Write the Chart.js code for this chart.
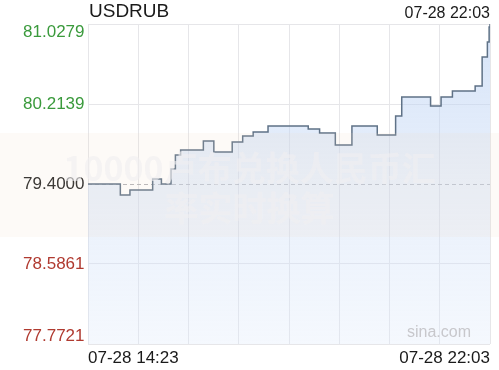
<!DOCTYPE html>
<html>
<head>
<meta charset="utf-8">
<title>USDRUB</title>
<script src="https://cdn.jsdelivr.net/npm/chart.js@4.4.1/dist/chart.umd.min.js"></script>
<style>
    html, body { margin: 0; padding: 0; background: #fff; }
    #wrap { position: relative; width: 499px; height: 370px; }
    #band {
        position: absolute; left: 0; top: 133px; width: 499px; height: 104px;
        background: rgba(240, 215, 190, 0.13); pointer-events: none;
        padding-top: 14px; box-sizing: border-box;
    }
    #band div {
        text-align: center; font: bold 34px "Noto Sans CJK SC", sans-serif;
        line-height: 40px; color: rgba(240, 238, 240, 0.6);
    }
</style>
</head>
<body>
<div id="wrap">
    <canvas id="chart" width="499" height="370"></canvas>
    <div id="band"><div>10000卢布兑换人民币汇</div><div>率实时换算</div></div>
</div>
<script>
// minutes after 07-28 14:23 where the rate changes, and the rate from then on
const stepMinutes = [0, 37, 48, 74, 84, 95, 100, 106, 132, 144, 165, 177, 189, 206, 252, 265, 283, 302, 331, 352, 359, 392, 404, 417, 443, 451, 457, 459, 460];
const stepRates = [79.4000, 79.2880, 79.3390, 79.4510, 79.4000, 79.5530, 79.6950, 79.7460, 79.8370, 79.7260, 79.8270, 79.8880, 79.9290, 79.9900, 79.9600, 79.9190, 79.7970, 79.9900, 79.8990, 80.0920, 80.2850, 80.1940, 80.2850, 80.3460, 80.3970, 80.6920, 80.8450, 80.9970, 81.0279];

const yTicks = [81.0279, 80.2139, 79.4000, 78.5861, 77.7721];
const prevClose = 79.4000;
const xLabels = ["07-28 14:23", "07-28 22:03"];
const title = "USDRUB";
const lastTime = "07-28 22:03";

const FONT = '"Liberation Sans", Arial, Helvetica, sans-serif';

// Labels, dashed previous close line and the small texts
const decorPlugin = {
    id: "decor",
    beforeDatasetsDraw(chart) {
        const ctx = chart.ctx;
        const area = chart.chartArea;
        const py = chart.scales.y.getPixelForValue(prevClose);
        ctx.save();
        ctx.strokeStyle = "#b4b4b8";
        ctx.lineWidth = 1;
        ctx.setLineDash([4, 3]);
        ctx.beginPath();
        ctx.moveTo(area.left, Math.round(py) + 0.5);
        ctx.lineTo(area.right, Math.round(py) + 0.5);
        ctx.stroke();
        ctx.restore();
    },
    afterDraw(chart) {
        const ctx = chart.ctx;
        const area = chart.chartArea;
        const y = chart.scales.y;
        ctx.save();
        ctx.textBaseline = "middle";

        // y labels, kept inside the plot box
        ctx.font = "17px " + FONT;
        ctx.textAlign = "right";
        yTicks.forEach(v => {
            let py = y.getPixelForValue(v);
            py = Math.min(Math.max(py, area.top + 8), area.bottom - 8);
            ctx.fillStyle = v > prevClose ? "#3a9a3c" : (v < prevClose ? "#b03a30" : "#222");
            ctx.fillText(v.toFixed(4), area.left - 3.5, py);
        });

        // title and time stamp
        ctx.fillStyle = "#1a1a1a";
        ctx.textAlign = "left";
        ctx.font = "19px " + FONT;
        ctx.fillText(title, area.left + 1, 12);
        ctx.textAlign = "right";
        ctx.font = "16px " + FONT;
        ctx.fillText(lastTime, area.right, 14);

        // sina watermark
        ctx.fillStyle = "#c8c8cc";
        ctx.fillText("sina.com", area.right - 19, area.bottom - 11);
        ctx.restore();
    }
};

const points = stepMinutes.map((m, i) => ({ x: m, y: stepRates[i] }));

const xMin = stepMinutes[0];
const xMax = stepMinutes[stepMinutes.length - 1];
const xGrid = [];
for (let i = 0; i <= 8; i++) xGrid.push(xMin + (xMax - xMin) * i / 8);

new Chart(document.getElementById("chart"), {
    type: "line",
    data: {
        datasets: [{
            data: points,
            stepped: true,
            borderColor: "#5f7287",
            borderWidth: 1.5,
            pointRadius: 0,
            fill: "start",
            backgroundColor: function(context) {
                const area = context.chart.chartArea;
                if (!area) return "rgba(200,218,245,0.4)";
                const g = context.chart.ctx.createLinearGradient(0, area.top, 0, area.bottom);
                g.addColorStop(0, "rgba(180,205,242,0.55)");
                g.addColorStop(1, "rgba(220,232,250,0.3)");
                return g;
            }
        }]
    },
    options: {
        responsive: false,
        animation: false,
        devicePixelRatio: 1,
        layout: { padding: { left: 0, right: 9, top: 24, bottom: 0 } },
        plugins: {
            legend: { display: false },
            tooltip: { enabled: false }
        },
        scales: {
            x: {
                type: "linear",
                min: xMin,
                max: xMax,
                afterBuildTicks: s => { s.ticks = xGrid.map(v => ({ value: v })); },
                afterFit: s => { s.height = 26; },
                ticks: {
                    autoSkip: false,
                    maxRotation: 0,
                    align: "inner",
                    padding: 4,
                    color: "#1a1a1a",
                    font: { family: FONT, size: 17 },
                    callback: (v, i) => i === 0 ? xLabels[0] : (i === xGrid.length - 1 ? xLabels[1] : "")
                },
                grid: { color: "#e6e6e9", drawTicks: false },
                border: { display: false }
            },
            y: {
                min: yTicks[yTicks.length - 1],
                max: yTicks[0],
                afterBuildTicks: s => { s.ticks = yTicks.map(v => ({ value: v })); },
                afterFit: s => { s.width = 88; },
                ticks: { display: false },
                grid: {
                    drawTicks: false,
                    color: c => (c.tick && c.tick.value === prevClose) ? "rgba(0,0,0,0)" : "#e6e6e9"
                },
                border: { display: false }
            }
        }
    },
    plugins: [decorPlugin]
});
</script>
</body>
</html>
